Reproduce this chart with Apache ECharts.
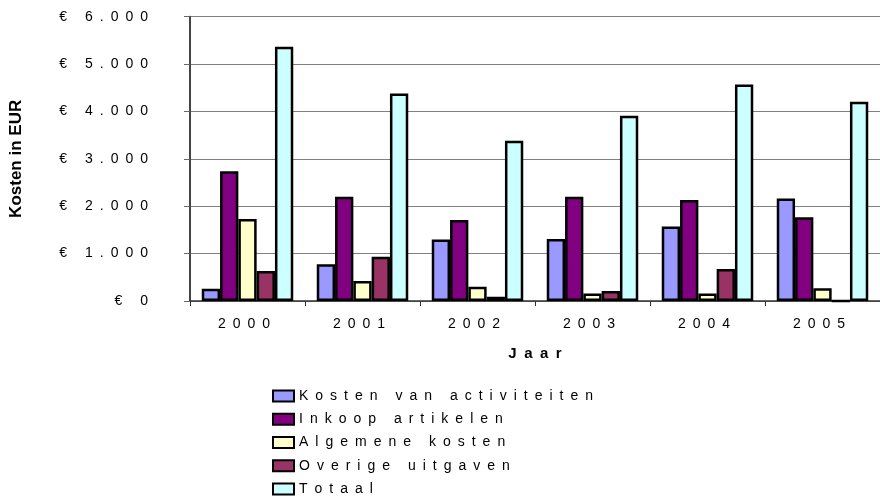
<!DOCTYPE html>
<html>
<head>
<meta charset="utf-8">
<script src="https://cdn.jsdelivr.net/npm/echarts@6/dist/echarts.min.js"></script>
<style>
  html, body { margin: 0; padding: 0; background: #fff; }
  #chart { width: 880px; height: 502px; }
</style>
</head>
<body>
<div id="chart"></div>
<script>
// jaren en waarden
const years = ['2000', '2001', '2002', '2003', '2004', '2005']
const kostenActiviteiten = [260, 775, 1300, 1310, 1570, 2165]
const inkoopArtikelen = [2740, 2200, 1710, 2200, 2130, 1765]
const algemeneKosten = [1730, 420, 300, 160, 160, 270]
const overigeUitgaven = [635, 935, 90, 210, 675, 0]
const totaal = [5365, 4380, 3380, 3910, 4570, 4205]

const seriesNames = ['Kosten van activiteiten', 'Inkoop artikelen', 'Algemene kosten', 'Overige uitgaven', 'Totaal']
const seriesData = [kostenActiviteiten, inkoopArtikelen, algemeneKosten, overigeUitgaven, totaal]
const seriesColors = ['#9999FF', '#800080', '#FFFFCC', '#993366', '#CCFFFF']

const FONT = '"Liberation Sans", Arial, sans-serif'

// Excel-achtige letterspatiëring
const sp = (s) => s.split('').join('\u2002')

// € 6.000 notatie
const euro = (v) => sp('€ ' + String(v).replace(/(\d)(\d{3})$/, '$1.$2'))

const chart = echarts.init(document.getElementById('chart'))

const option = {
  backgroundColor: '#fff',
  animation: false,
  textStyle: { fontFamily: FONT },
  grid: { left: 190, top: 16.7, width: 700, height: 284.3 },
  xAxis: {
    type: 'category',
    data: years,
    name: sp('Jaar'),
    nameLocation: 'middle',
    nameGap: 45,
    nameTextStyle: { fontFamily: FONT, fontSize: 15, fontWeight: 'bold', color: '#000' },
    axisLine: { lineStyle: { color: '#333', width: 1.5 } },
    axisTick: { show: true, length: 5, lineStyle: { color: '#333' } },
    axisLabel: {
      margin: 16,
      fontFamily: FONT,
      fontSize: 14,
      color: '#000',
      formatter: (v) => sp(v) + '\u2002'
    }
  },
  yAxis: {
    type: 'value',
    min: 0,
    max: 6000,
    interval: 1000,
    name: 'Kosten in EUR',
    nameLocation: 'middle',
    nameRotate: 90,
    nameGap: 165,
    nameTextStyle: { fontFamily: FONT, fontSize: 17, fontWeight: 'bold', color: '#000' },
    axisLine: { show: true, lineStyle: { color: '#444', width: 2 } },
    axisTick: { show: true, length: 6, lineStyle: { color: '#666' } },
    splitLine: { lineStyle: { color: '#808080', width: 1 } },
    axisLabel: {
      margin: 42,
      fontFamily: FONT,
      fontSize: 14,
      color: '#000',
      formatter: euro
    }
  },
  legend: {
    orient: 'vertical',
    left: 272,
    top: 389,
    padding: 0,
    itemGap: 9.25,
    itemWidth: 21,
    itemHeight: 11,
    icon: 'rect',
    data: seriesNames,
    formatter: (name) => sp(name),
    itemStyle: { borderColor: '#000', borderWidth: 2 },
    textStyle: { fontFamily: FONT, fontSize: 14, color: '#000', lineHeight: 14 }
  },
  series: seriesNames.map((name, i) => ({
    name: name,
    type: 'bar',
    data: seriesData[i],
    barWidth: 18.3,
    barGap: '0%',
    itemStyle: { color: seriesColors[i], borderColor: '#000', borderWidth: 2.5 }
  }))
}

chart.setOption(option)
</script>
</body>
</html>
